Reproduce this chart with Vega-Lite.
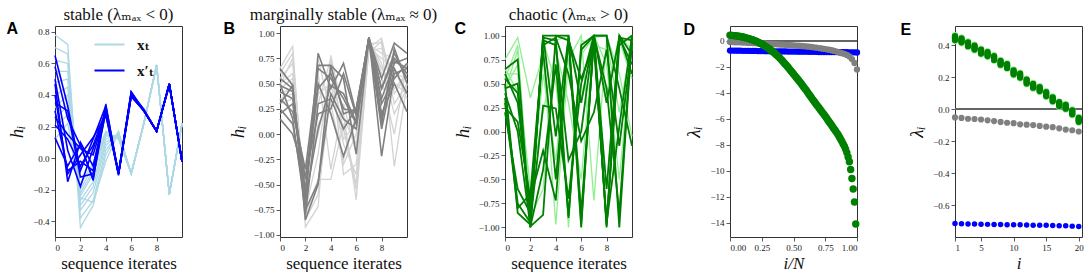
{
"$schema": "https://vega.github.io/schema/vega-lite/v6.json",
"padding": {"left": 5, "top": 5, "right": 0, "bottom": 0},
"bounds": "flush",
"spacing": 98,
"resolve": {"scale": {"color": "independent"}},
"config": {
 "view": {"stroke": "#333333", "strokeWidth": 1},
 "axis": {"grid": false, "domain": false, "labelFont": "Liberation Serif", "labelFontSize": 9, "labelColor": "#222222", "tickColor": "#333333", "tickSize": 4, "tickWidth": 0.8, "labelPadding": 2, "titleFont": "Liberation Serif", "titleFontSize": 17, "titleFontWeight": "normal", "titleColor": "#111111"},
 "axisY": {"titleFontSize": 19, "titleFontStyle": "italic", "titlePadding": 6},
 "axisX": {"titlePadding": 3},
 "title": {"font": "Liberation Serif, DejaVu Serif", "fontSize": 17, "fontWeight": "normal", "color": "#111111", "offset": -4}
},
"hconcat": [
 {
  "width": 127, "height": 211,
  "data": {"name": "A"},
  "title": {"text": "stable (λₘₐₓ < 0)", "anchor": "middle", "frame": "group"},
  "resolve": {"axis": {"x": "independent"}},
  "layer": [
   {"transform": [{"filter": "datum.s == 'x'"}],
    "mark": {"type": "line", "strokeWidth": 1.3},
    "encoding": {
     "x": {"field": "t", "type": "quantitative", "scale": {"domain": [0, 10], "nice": false, "zero": false}, "axis": {"values": [0, 2, 4, 6, 8], "format": "d", "title": "sequence iterates"}},
     "y": {"field": "h", "type": "quantitative", "scale": {"domain": [-0.5, 0.837], "nice": false, "zero": false}, "axis": {"values": [-0.4, -0.2, 0, 0.2, 0.4, 0.6, 0.8], "format": ".1f", "title": "hᵢ"}},
     "color": {"field": "s", "type": "nominal", "scale": {"domain": ["x", "xp"], "range": ["#add8e6", "#0000ff"]},
      "legend": {"orient": "none", "legendX": 47, "legendY": 11, "title": null, "padding": 0, "symbolType": "M-3,0L3,0", "symbolSize": 100, "symbolStrokeWidth": 2, "labelOffset": 20, "labelFont": "Liberation Serif, DejaVu Serif", "labelFontSize": 15, "labelFontWeight": "bold", "labelColor": "#111111", "rowPadding": 10, "labelExpr": "datum.value == 'x' ? 'xₜ' : 'x′ₜ'"}},
     "detail": {"field": "k", "type": "nominal"}
    }},
   {"transform": [{"filter": "datum.s == 'xp'"}],
    "mark": {"type": "line", "strokeWidth": 1.6},
    "encoding": {
     "x": {"field": "t", "type": "quantitative", "scale": {"domain": [0, 10], "nice": false, "zero": false}, "axis": {"orient": "top", "labels": false, "ticks": false, "domain": false, "title": "A", "titleX": -49, "titleY": 7, "titleAngle": 0, "titleAlign": "left", "titleBaseline": "alphabetic", "titleFont": "Liberation Sans", "titleFontSize": 16, "titleFontWeight": "bold", "titleFontStyle": "normal", "titleColor": "#000000"}},
     "y": {"field": "h", "type": "quantitative", "scale": {"domain": [-0.5, 0.837], "nice": false, "zero": false}, "axis": {"values": [-0.4, -0.2, 0, 0.2, 0.4, 0.6, 0.8], "format": ".1f", "title": "hᵢ"}},
     "color": {"field": "s", "type": "nominal", "scale": {"domain": ["x", "xp"], "range": ["#add8e6", "#0000ff"]}},
     "detail": {"field": "k", "type": "nominal"}
    }}
  ]
 },
 {
  "width": 127, "height": 211,
  "data": {"name": "B"},
  "title": {"text": "marginally stable (λₘₐₓ ≈ 0)", "anchor": "middle", "frame": "group"},
  "resolve": {"axis": {"x": "independent"}},
  "layer": [
   {"transform": [{"filter": "datum.s == 'x'"}],
    "mark": {"type": "line", "strokeWidth": 1.3},
    "encoding": {
     "x": {"field": "t", "type": "quantitative", "scale": {"domain": [0, 10], "nice": false, "zero": false}, "axis": {"values": [0, 2, 4, 6, 8], "format": "d", "title": "sequence iterates"}},
     "y": {"field": "h", "type": "quantitative", "scale": {"domain": [-1.02, 1.07], "nice": false, "zero": false}, "axis": {"values": [-1, -0.75, -0.5, -0.25, 0, 0.25, 0.5, 0.75, 1], "format": ".2f", "title": "hᵢ"}},
     "color": {"field": "s", "type": "nominal", "scale": {"domain": ["x", "xp"], "range": ["#d3d3d3", "#808080"]}, "legend": null},
     "detail": {"field": "k", "type": "nominal"}
    }},
   {"transform": [{"filter": "datum.s == 'xp'"}],
    "mark": {"type": "line", "strokeWidth": 1.6},
    "encoding": {
     "x": {"field": "t", "type": "quantitative", "scale": {"domain": [0, 10], "nice": false, "zero": false}, "axis": {"orient": "top", "labels": false, "ticks": false, "domain": false, "title": "B", "titleX": -57, "titleY": 7, "titleAngle": 0, "titleAlign": "left", "titleBaseline": "alphabetic", "titleFont": "Liberation Sans", "titleFontSize": 16, "titleFontWeight": "bold", "titleFontStyle": "normal", "titleColor": "#000000"}},
     "y": {"field": "h", "type": "quantitative", "scale": {"domain": [-1.02, 1.07], "nice": false, "zero": false}, "axis": {"values": [-1, -0.75, -0.5, -0.25, 0, 0.25, 0.5, 0.75, 1], "format": ".2f", "title": "hᵢ"}},
     "color": {"field": "s", "type": "nominal", "scale": {"domain": ["x", "xp"], "range": ["#d3d3d3", "#808080"]}, "legend": null},
     "detail": {"field": "k", "type": "nominal"}
    }}
  ]
 },
 {
  "width": 127, "height": 211,
  "data": {"name": "C"},
  "title": {"text": "chaotic (λₘₐₓ > 0)", "anchor": "middle", "frame": "group"},
  "resolve": {"axis": {"x": "independent"}},
  "layer": [
   {"transform": [{"filter": "datum.s == 'x'"}],
    "mark": {"type": "line", "strokeWidth": 1.3},
    "encoding": {
     "x": {"field": "t", "type": "quantitative", "scale": {"domain": [0, 10], "nice": false, "zero": false}, "axis": {"values": [0, 2, 4, 6, 8], "format": "d", "title": "sequence iterates"}},
     "y": {"field": "h", "type": "quantitative", "scale": {"domain": [-1.1, 1.1], "nice": false, "zero": false}, "axis": {"values": [-1, -0.75, -0.5, -0.25, 0, 0.25, 0.5, 0.75, 1], "format": ".2f", "title": "hᵢ"}},
     "color": {"field": "s", "type": "nominal", "scale": {"domain": ["x", "xp"], "range": ["#90ee90", "#008000"]}, "legend": null},
     "detail": {"field": "k", "type": "nominal"}
    }},
   {"transform": [{"filter": "datum.s == 'xp'"}],
    "mark": {"type": "line", "strokeWidth": 1.8},
    "encoding": {
     "x": {"field": "t", "type": "quantitative", "scale": {"domain": [0, 10], "nice": false, "zero": false}, "axis": {"orient": "top", "labels": false, "ticks": false, "domain": false, "title": "C", "titleX": -51, "titleY": 7, "titleAngle": 0, "titleAlign": "left", "titleBaseline": "alphabetic", "titleFont": "Liberation Sans", "titleFontSize": 16, "titleFontWeight": "bold", "titleFontStyle": "normal", "titleColor": "#000000"}},
     "y": {"field": "h", "type": "quantitative", "scale": {"domain": [-1.1, 1.1], "nice": false, "zero": false}, "axis": {"values": [-1, -0.75, -0.5, -0.25, 0, 0.25, 0.5, 0.75, 1], "format": ".2f", "title": "hᵢ"}},
     "color": {"field": "s", "type": "nominal", "scale": {"domain": ["x", "xp"], "range": ["#90ee90", "#008000"]}, "legend": null},
     "detail": {"field": "k", "type": "nominal"}
    }}
  ]
 },
 {
  "width": 127, "height": 211,
  "data": {"name": "D"},
  "resolve": {"axis": {"x": "independent"}},
  "layer": [
   {"mark": {"type": "rule", "color": "#666666", "strokeWidth": 0.8},
    "encoding": {
     "y": {"datum": 0, "type": "quantitative", "scale": {"domain": [-15.1, 1.15], "nice": false, "zero": false}, "axis": {"values": [-14, -12, -10, -8, -6, -4, -2, 0], "format": "d", "title": "λᵢ"}}
    }},
   {"transform": [{"filter": "datum.s == 'b'"}],
    "mark": {"type": "circle", "opacity": 1, "size": 40},
    "encoding": {
     "x": {"field": "x", "type": "quantitative", "scale": {"domain": [0, 1], "nice": false, "zero": false}, "axis": {"orient": "top", "labels": false, "ticks": false, "domain": false, "title": "D", "titleX": -47, "titleY": 8, "titleAngle": 0, "titleAlign": "left", "titleBaseline": "alphabetic", "titleFont": "Liberation Sans", "titleFontSize": 16, "titleFontWeight": "bold", "titleFontStyle": "normal", "titleColor": "#000000"}},
     "y": {"field": "y", "type": "quantitative", "scale": {"domain": [-15.1, 1.15], "nice": false, "zero": false}, "axis": {"values": [-14, -12, -10, -8, -6, -4, -2, 0], "format": "d", "title": "λᵢ"}},
     "color": {"field": "s", "type": "nominal", "scale": {"domain": ["b", "gr", "g"], "range": ["#0000ff", "#808080", "#008000"]}, "legend": null}
    }},
   {"transform": [{"filter": "datum.s == 'gr'"}],
    "mark": {"type": "circle", "opacity": 1, "size": 40},
    "encoding": {
     "x": {"field": "x", "type": "quantitative", "scale": {"domain": [0, 1], "nice": false, "zero": false}, "axis": {"values": [0, 0.25, 0.5, 0.75, 1], "format": ".2f", "title": "i/N", "titleFontStyle": "italic"}},
     "y": {"field": "y", "type": "quantitative", "scale": {"domain": [-15.1, 1.15], "nice": false, "zero": false}, "axis": {"values": [-14, -12, -10, -8, -6, -4, -2, 0], "format": "d", "title": "λᵢ"}},
     "color": {"field": "s", "type": "nominal", "scale": {"domain": ["b", "gr", "g"], "range": ["#0000ff", "#808080", "#008000"]}, "legend": null}
    }},
   {"transform": [{"filter": "datum.s == 'g'"}],
    "mark": {"type": "circle", "opacity": 1, "size": 55},
    "encoding": {
     "x": {"field": "x", "type": "quantitative", "scale": {"domain": [0, 1], "nice": false, "zero": false}, "axis": null},
     "y": {"field": "y", "type": "quantitative", "scale": {"domain": [-15.1, 1.15], "nice": false, "zero": false}, "axis": {"values": [-14, -12, -10, -8, -6, -4, -2, 0], "format": "d", "title": "λᵢ"}},
     "color": {"field": "s", "type": "nominal", "scale": {"domain": ["b", "gr", "g"], "range": ["#0000ff", "#808080", "#008000"]}, "legend": null}
    }}
  ]
 },
 {
  "width": 127, "height": 211,
  "data": {"name": "E"},
  "resolve": {"axis": {"x": "independent"}},
  "layer": [
   {"mark": {"type": "rule", "color": "#666666", "strokeWidth": 0.8},
    "encoding": {
     "y": {"datum": 0, "type": "quantitative", "scale": {"domain": [-0.8, 0.52], "nice": false, "zero": false}, "axis": {"values": [-0.6, -0.4, -0.2, 0, 0.2, 0.4], "format": ".1f", "title": "λᵢ"}}
    }},
   {"transform": [{"filter": "datum.s == 'b'"}],
    "mark": {"type": "circle", "opacity": 1, "size": 30},
    "encoding": {
     "x": {"field": "i", "type": "quantitative", "scale": {"domain": [1, 20.5], "nice": false, "zero": false}, "axis": {"orient": "top", "labels": false, "ticks": false, "domain": false, "title": "E", "titleX": -55, "titleY": 8, "titleAngle": 0, "titleAlign": "left", "titleBaseline": "alphabetic", "titleFont": "Liberation Sans", "titleFontSize": 16, "titleFontWeight": "bold", "titleFontStyle": "normal", "titleColor": "#000000"}},
     "y": {"field": "y", "type": "quantitative", "scale": {"domain": [-0.8, 0.52], "nice": false, "zero": false}, "axis": {"values": [-0.6, -0.4, -0.2, 0, 0.2, 0.4], "format": ".1f", "title": "λᵢ"}},
     "color": {"field": "s", "type": "nominal", "scale": {"domain": ["b", "gr", "lg", "g"], "range": ["#0000ff", "#808080", "#90ee90", "#008000"]}, "legend": null}
    }},
   {"transform": [{"filter": "datum.s == 'gr'"}],
    "mark": {"type": "circle", "opacity": 1, "size": 38},
    "encoding": {
     "x": {"field": "i", "type": "quantitative", "scale": {"domain": [1, 20.5], "nice": false, "zero": false}, "axis": {"values": [1, 5, 10, 15, 20], "format": "d", "title": "i", "titleFontStyle": "italic"}},
     "y": {"field": "y", "type": "quantitative", "scale": {"domain": [-0.8, 0.52], "nice": false, "zero": false}, "axis": {"values": [-0.6, -0.4, -0.2, 0, 0.2, 0.4], "format": ".1f", "title": "λᵢ"}},
     "color": {"field": "s", "type": "nominal", "scale": {"domain": ["b", "gr", "lg", "g"], "range": ["#0000ff", "#808080", "#90ee90", "#008000"]}, "legend": null}
    }},
   {"transform": [{"filter": "datum.s == 'lg' || datum.s == 'g'"}],
    "mark": {"type": "circle", "opacity": 1, "size": 40},
    "encoding": {
     "x": {"field": "i", "type": "quantitative", "scale": {"domain": [1, 20.5], "nice": false, "zero": false}, "axis": null},
     "y": {"field": "y", "type": "quantitative", "scale": {"domain": [-0.8, 0.52], "nice": false, "zero": false}, "axis": {"values": [-0.6, -0.4, -0.2, 0, 0.2, 0.4], "format": ".1f", "title": "λᵢ"}},
     "color": {"field": "s", "type": "nominal", "scale": {"domain": ["b", "gr", "lg", "g"], "range": ["#0000ff", "#808080", "#90ee90", "#008000"]}, "legend": null},
     "order": {"field": "o", "type": "quantitative"}
    }}
  ]
 }
],
"datasets": {
"A": [
{"s":"x","k":1,"t":0,"h":0.78},{"s":"x","k":1,"t":1,"h":0.72},{"s":"x","k":1,"t":2,"h":-0.44},{"s":"x","k":1,"t":3,"h":-0.30},{"s":"x","k":1,"t":4,"h":0.02},{"s":"x","k":1,"t":5,"h":0.17},{"s":"x","k":1,"t":6,"h":-0.10},{"s":"x","k":1,"t":7,"h":0.22},{"s":"x","k":1,"t":8,"h":0.59},{"s":"x","k":1,"t":9,"h":-0.23},{"s":"x","k":1,"t":10,"h":0.22},
{"s":"x","k":2,"t":0,"h":0.70},{"s":"x","k":2,"t":1,"h":0.66},{"s":"x","k":2,"t":2,"h":-0.38},{"s":"x","k":2,"t":3,"h":-0.27},{"s":"x","k":2,"t":4,"h":0.05},{"s":"x","k":2,"t":5,"h":0.16},{"s":"x","k":2,"t":6,"h":-0.10},{"s":"x","k":2,"t":7,"h":0.22},{"s":"x","k":2,"t":8,"h":0.59},{"s":"x","k":2,"t":9,"h":-0.23},{"s":"x","k":2,"t":10,"h":0.22},
{"s":"x","k":3,"t":0,"h":0.62},{"s":"x","k":3,"t":1,"h":0.60},{"s":"x","k":3,"t":2,"h":-0.33},{"s":"x","k":3,"t":3,"h":-0.22},{"s":"x","k":3,"t":4,"h":0.08},{"s":"x","k":3,"t":5,"h":0.16},{"s":"x","k":3,"t":6,"h":-0.10},{"s":"x","k":3,"t":7,"h":0.22},{"s":"x","k":3,"t":8,"h":0.59},{"s":"x","k":3,"t":9,"h":-0.23},{"s":"x","k":3,"t":10,"h":0.21},
{"s":"x","k":4,"t":0,"h":0.55},{"s":"x","k":4,"t":1,"h":0.55},{"s":"x","k":4,"t":2,"h":-0.30},{"s":"x","k":4,"t":3,"h":-0.18},{"s":"x","k":4,"t":4,"h":0.10},{"s":"x","k":4,"t":5,"h":0.15},{"s":"x","k":4,"t":6,"h":-0.10},{"s":"x","k":4,"t":7,"h":0.22},{"s":"x","k":4,"t":8,"h":0.58},{"s":"x","k":4,"t":9,"h":-0.23},{"s":"x","k":4,"t":10,"h":0.21},
{"s":"x","k":5,"t":0,"h":0.48},{"s":"x","k":5,"t":1,"h":0.50},{"s":"x","k":5,"t":2,"h":-0.27},{"s":"x","k":5,"t":3,"h":-0.15},{"s":"x","k":5,"t":4,"h":0.12},{"s":"x","k":5,"t":5,"h":0.15},{"s":"x","k":5,"t":6,"h":-0.10},{"s":"x","k":5,"t":7,"h":0.22},{"s":"x","k":5,"t":8,"h":0.59},{"s":"x","k":5,"t":9,"h":-0.23},{"s":"x","k":5,"t":10,"h":0.22},
{"s":"x","k":6,"t":0,"h":0.40},{"s":"x","k":6,"t":1,"h":0.45},{"s":"x","k":6,"t":2,"h":-0.24},{"s":"x","k":6,"t":3,"h":-0.10},{"s":"x","k":6,"t":4,"h":0.14},{"s":"x","k":6,"t":5,"h":0.14},{"s":"x","k":6,"t":6,"h":-0.09},{"s":"x","k":6,"t":7,"h":0.22},{"s":"x","k":6,"t":8,"h":0.59},{"s":"x","k":6,"t":9,"h":-0.23},{"s":"x","k":6,"t":10,"h":0.22},
{"s":"x","k":7,"t":0,"h":0.32},{"s":"x","k":7,"t":1,"h":0.40},{"s":"x","k":7,"t":2,"h":-0.22},{"s":"x","k":7,"t":3,"h":-0.08},{"s":"x","k":7,"t":4,"h":0.15},{"s":"x","k":7,"t":5,"h":0.13},{"s":"x","k":7,"t":6,"h":-0.10},{"s":"x","k":7,"t":7,"h":0.22},{"s":"x","k":7,"t":8,"h":0.59},{"s":"x","k":7,"t":9,"h":-0.23},{"s":"x","k":7,"t":10,"h":0.22},
{"s":"x","k":8,"t":0,"h":0.25},{"s":"x","k":8,"t":1,"h":0.33},{"s":"x","k":8,"t":2,"h":-0.20},{"s":"x","k":8,"t":3,"h":-0.05},{"s":"x","k":8,"t":4,"h":0.16},{"s":"x","k":8,"t":5,"h":0.13},{"s":"x","k":8,"t":6,"h":-0.10},{"s":"x","k":8,"t":7,"h":0.23},{"s":"x","k":8,"t":8,"h":0.59},{"s":"x","k":8,"t":9,"h":-0.22},{"s":"x","k":8,"t":10,"h":0.22},
{"s":"x","k":9,"t":0,"h":0.18},{"s":"x","k":9,"t":1,"h":0.28},{"s":"x","k":9,"t":2,"h":-0.17},{"s":"x","k":9,"t":3,"h":-0.03},{"s":"x","k":9,"t":4,"h":0.17},{"s":"x","k":9,"t":5,"h":0.12},{"s":"x","k":9,"t":6,"h":-0.10},{"s":"x","k":9,"t":7,"h":0.22},{"s":"x","k":9,"t":8,"h":0.59},{"s":"x","k":9,"t":9,"h":-0.23},{"s":"x","k":9,"t":10,"h":0.22},
{"s":"x","k":10,"t":0,"h":0.12},{"s":"x","k":10,"t":1,"h":0.22},{"s":"x","k":10,"t":2,"h":-0.25},{"s":"x","k":10,"t":3,"h":-0.28},{"s":"x","k":10,"t":4,"h":-0.02},{"s":"x","k":10,"t":5,"h":0.16},{"s":"x","k":10,"t":6,"h":-0.10},{"s":"x","k":10,"t":7,"h":0.22},{"s":"x","k":10,"t":8,"h":0.59},{"s":"x","k":10,"t":9,"h":-0.23},{"s":"x","k":10,"t":10,"h":0.22},
{"s":"xp","k":11,"t":0,"h":0.65},{"s":"xp","k":11,"t":1,"h":0.33},{"s":"xp","k":11,"t":2,"h":-0.08},{"s":"xp","k":11,"t":3,"h":0.12},{"s":"xp","k":11,"t":4,"h":0.33},{"s":"xp","k":11,"t":5,"h":-0.10},{"s":"xp","k":11,"t":6,"h":0.42},{"s":"xp","k":11,"t":7,"h":0.30},{"s":"xp","k":11,"t":8,"h":0.17},{"s":"xp","k":11,"t":9,"h":0.47},{"s":"xp","k":11,"t":10,"h":-0.02},
{"s":"xp","k":12,"t":0,"h":0.58},{"s":"xp","k":12,"t":1,"h":0.25},{"s":"xp","k":12,"t":2,"h":0.08},{"s":"xp","k":12,"t":3,"h":-0.13},{"s":"xp","k":12,"t":4,"h":0.30},{"s":"xp","k":12,"t":5,"h":-0.10},{"s":"xp","k":12,"t":6,"h":0.40},{"s":"xp","k":12,"t":7,"h":0.30},{"s":"xp","k":12,"t":8,"h":0.17},{"s":"xp","k":12,"t":9,"h":0.47},{"s":"xp","k":12,"t":10,"h":-0.02},
{"s":"xp","k":13,"t":0,"h":0.50},{"s":"xp","k":13,"t":1,"h":0.05},{"s":"xp","k":13,"t":2,"h":-0.18},{"s":"xp","k":13,"t":3,"h":0.06},{"s":"xp","k":13,"t":4,"h":0.28},{"s":"xp","k":13,"t":5,"h":-0.11},{"s":"xp","k":13,"t":6,"h":0.39},{"s":"xp","k":13,"t":7,"h":0.30},{"s":"xp","k":13,"t":8,"h":0.17},{"s":"xp","k":13,"t":9,"h":0.47},{"s":"xp","k":13,"t":10,"h":-0.02},
{"s":"xp","k":14,"t":0,"h":0.47},{"s":"xp","k":14,"t":1,"h":-0.15},{"s":"xp","k":14,"t":2,"h":0.10},{"s":"xp","k":14,"t":3,"h":-0.05},{"s":"xp","k":14,"t":4,"h":0.31},{"s":"xp","k":14,"t":5,"h":-0.10},{"s":"xp","k":14,"t":6,"h":0.41},{"s":"xp","k":14,"t":7,"h":0.31},{"s":"xp","k":14,"t":8,"h":0.17},{"s":"xp","k":14,"t":9,"h":0.47},{"s":"xp","k":14,"t":10,"h":-0.02},
{"s":"xp","k":15,"t":0,"h":0.40},{"s":"xp","k":15,"t":1,"h":-0.10},{"s":"xp","k":15,"t":2,"h":0.02},{"s":"xp","k":15,"t":3,"h":0.13},{"s":"xp","k":15,"t":4,"h":0.27},{"s":"xp","k":15,"t":5,"h":-0.09},{"s":"xp","k":15,"t":6,"h":0.40},{"s":"xp","k":15,"t":7,"h":0.30},{"s":"xp","k":15,"t":8,"h":0.17},{"s":"xp","k":15,"t":9,"h":0.47},{"s":"xp","k":15,"t":10,"h":-0.02},
{"s":"xp","k":16,"t":0,"h":0.35},{"s":"xp","k":16,"t":1,"h":0.30},{"s":"xp","k":16,"t":2,"h":-0.12},{"s":"xp","k":16,"t":3,"h":-0.10},{"s":"xp","k":16,"t":4,"h":0.32},{"s":"xp","k":16,"t":5,"h":-0.10},{"s":"xp","k":16,"t":6,"h":0.39},{"s":"xp","k":16,"t":7,"h":0.30},{"s":"xp","k":16,"t":8,"h":0.17},{"s":"xp","k":16,"t":9,"h":0.47},{"s":"xp","k":16,"t":10,"h":-0.02},
{"s":"xp","k":17,"t":0,"h":0.26},{"s":"xp","k":17,"t":1,"h":0.15},{"s":"xp","k":17,"t":2,"h":0.06},{"s":"xp","k":17,"t":3,"h":0.02},{"s":"xp","k":17,"t":4,"h":0.29},{"s":"xp","k":17,"t":5,"h":-0.10},{"s":"xp","k":17,"t":6,"h":0.41},{"s":"xp","k":17,"t":7,"h":0.30},{"s":"xp","k":17,"t":8,"h":0.17},{"s":"xp","k":17,"t":9,"h":0.46},{"s":"xp","k":17,"t":10,"h":-0.02},
{"s":"xp","k":18,"t":0,"h":0.21},{"s":"xp","k":18,"t":1,"h":0.12},{"s":"xp","k":18,"t":2,"h":-0.05},{"s":"xp","k":18,"t":3,"h":0.08},{"s":"xp","k":18,"t":4,"h":0.30},{"s":"xp","k":18,"t":5,"h":-0.10},{"s":"xp","k":18,"t":6,"h":0.40},{"s":"xp","k":18,"t":7,"h":0.30},{"s":"xp","k":18,"t":8,"h":0.17},{"s":"xp","k":18,"t":9,"h":0.47},{"s":"xp","k":18,"t":10,"h":-0.02},
{"s":"xp","k":19,"t":0,"h":0.13},{"s":"xp","k":19,"t":1,"h":-0.05},{"s":"xp","k":19,"t":2,"h":0.09},{"s":"xp","k":19,"t":3,"h":-0.14},{"s":"xp","k":19,"t":4,"h":0.34},{"s":"xp","k":19,"t":5,"h":-0.10},{"s":"xp","k":19,"t":6,"h":0.42},{"s":"xp","k":19,"t":7,"h":0.30},{"s":"xp","k":19,"t":8,"h":0.17},{"s":"xp","k":19,"t":9,"h":0.47},{"s":"xp","k":19,"t":10,"h":-0.02},
{"s":"xp","k":20,"t":0,"h":0.30},{"s":"xp","k":20,"t":1,"h":-0.08},{"s":"xp","k":20,"t":2,"h":-0.02},{"s":"xp","k":20,"t":3,"h":-0.08},{"s":"xp","k":20,"t":4,"h":0.29},{"s":"xp","k":20,"t":5,"h":-0.10},{"s":"xp","k":20,"t":6,"h":0.40},{"s":"xp","k":20,"t":7,"h":0.30},{"s":"xp","k":20,"t":8,"h":0.17},{"s":"xp","k":20,"t":9,"h":0.47},{"s":"xp","k":20,"t":10,"h":-0.02}
],
"B": [
{"s":"x","k":1,"t":0,"h":0.65},{"s":"x","k":1,"t":1,"h":0.87},{"s":"x","k":1,"t":2,"h":-0.92},{"s":"x","k":1,"t":3,"h":-0.72},{"s":"x","k":1,"t":4,"h":0.78},{"s":"x","k":1,"t":5,"h":0.20},{"s":"x","k":1,"t":6,"h":-0.65},{"s":"x","k":1,"t":7,"h":0.85},{"s":"x","k":1,"t":8,"h":0.95},{"s":"x","k":1,"t":9,"h":0.40},{"s":"x","k":1,"t":10,"h":0.60},
{"s":"x","k":2,"t":0,"h":0.60},{"s":"x","k":2,"t":1,"h":0.80},{"s":"x","k":2,"t":2,"h":-0.80},{"s":"x","k":2,"t":3,"h":-0.45},{"s":"x","k":2,"t":4,"h":-0.45},{"s":"x","k":2,"t":5,"h":0.10},{"s":"x","k":2,"t":6,"h":-0.50},{"s":"x","k":2,"t":7,"h":0.90},{"s":"x","k":2,"t":8,"h":0.90},{"s":"x","k":2,"t":9,"h":-0.32},{"s":"x","k":2,"t":10,"h":0.50},
{"s":"x","k":3,"t":0,"h":0.55},{"s":"x","k":3,"t":1,"h":0.70},{"s":"x","k":3,"t":2,"h":-0.75},{"s":"x","k":3,"t":3,"h":-0.20},{"s":"x","k":3,"t":4,"h":0.70},{"s":"x","k":3,"t":5,"h":-0.40},{"s":"x","k":3,"t":6,"h":-0.30},{"s":"x","k":3,"t":7,"h":0.88},{"s":"x","k":3,"t":8,"h":0.80},{"s":"x","k":3,"t":9,"h":0.75},{"s":"x","k":3,"t":10,"h":0.65},
{"s":"x","k":4,"t":0,"h":0.50},{"s":"x","k":4,"t":1,"h":0.60},{"s":"x","k":4,"t":2,"h":-0.65},{"s":"x","k":4,"t":3,"h":0.10},{"s":"x","k":4,"t":4,"h":0.30},{"s":"x","k":4,"t":5,"h":-0.30},{"s":"x","k":4,"t":6,"h":0.00},{"s":"x","k":4,"t":7,"h":0.92},{"s":"x","k":4,"t":8,"h":0.70},{"s":"x","k":4,"t":9,"h":0.20},{"s":"x","k":4,"t":10,"h":0.45},
{"s":"x","k":5,"t":0,"h":0.45},{"s":"x","k":5,"t":1,"h":0.55},{"s":"x","k":5,"t":2,"h":-0.60},{"s":"x","k":5,"t":3,"h":0.40},{"s":"x","k":5,"t":4,"h":0.50},{"s":"x","k":5,"t":5,"h":-0.10},{"s":"x","k":5,"t":6,"h":-0.40},{"s":"x","k":5,"t":7,"h":0.82},{"s":"x","k":5,"t":8,"h":0.85},{"s":"x","k":5,"t":9,"h":0.60},{"s":"x","k":5,"t":10,"h":0.55},
{"s":"x","k":6,"t":0,"h":0.40},{"s":"x","k":6,"t":1,"h":0.45},{"s":"x","k":6,"t":2,"h":-0.55},{"s":"x","k":6,"t":3,"h":0.60},{"s":"x","k":6,"t":4,"h":-0.35},{"s":"x","k":6,"t":5,"h":0.30},{"s":"x","k":6,"t":6,"h":-0.20},{"s":"x","k":6,"t":7,"h":0.95},{"s":"x","k":6,"t":8,"h":0.60},{"s":"x","k":6,"t":9,"h":0.50},{"s":"x","k":6,"t":10,"h":0.40},
{"s":"x","k":7,"t":0,"h":0.35},{"s":"x","k":7,"t":1,"h":0.40},{"s":"x","k":7,"t":2,"h":-0.50},{"s":"x","k":7,"t":3,"h":0.75},{"s":"x","k":7,"t":4,"h":0.20},{"s":"x","k":7,"t":5,"h":-0.25},{"s":"x","k":7,"t":6,"h":0.20},{"s":"x","k":7,"t":7,"h":0.90},{"s":"x","k":7,"t":8,"h":0.55},{"s":"x","k":7,"t":9,"h":0.00},{"s":"x","k":7,"t":10,"h":0.70},
{"s":"x","k":8,"t":0,"h":0.30},{"s":"x","k":8,"t":1,"h":0.35},{"s":"x","k":8,"t":2,"h":-0.40},{"s":"x","k":8,"t":3,"h":0.00},{"s":"x","k":8,"t":4,"h":0.60},{"s":"x","k":8,"t":5,"h":0.05},{"s":"x","k":8,"t":6,"h":-0.55},{"s":"x","k":8,"t":7,"h":0.85},{"s":"x","k":8,"t":8,"h":0.75},{"s":"x","k":8,"t":9,"h":0.65},{"s":"x","k":8,"t":10,"h":0.35},
{"s":"x","k":9,"t":0,"h":0.62},{"s":"x","k":9,"t":1,"h":0.50},{"s":"x","k":9,"t":2,"h":-0.85},{"s":"x","k":9,"t":3,"h":-0.60},{"s":"x","k":9,"t":4,"h":0.40},{"s":"x","k":9,"t":5,"h":0.15},{"s":"x","k":9,"t":6,"h":-0.10},{"s":"x","k":9,"t":7,"h":0.93},{"s":"x","k":9,"t":8,"h":0.65},{"s":"x","k":9,"t":9,"h":0.45},{"s":"x","k":9,"t":10,"h":0.60},
{"s":"x","k":10,"t":0,"h":0.48},{"s":"x","k":10,"t":1,"h":0.75},{"s":"x","k":10,"t":2,"h":-0.70},{"s":"x","k":10,"t":3,"h":0.30},{"s":"x","k":10,"t":4,"h":0.75},{"s":"x","k":10,"t":5,"h":-0.05},{"s":"x","k":10,"t":6,"h":0.10},{"s":"x","k":10,"t":7,"h":0.80},{"s":"x","k":10,"t":8,"h":0.92},{"s":"x","k":10,"t":9,"h":0.30},{"s":"x","k":10,"t":10,"h":0.50},
{"s":"xp","k":11,"t":0,"h":0.65},{"s":"xp","k":11,"t":1,"h":0.48},{"s":"xp","k":11,"t":2,"h":-0.85},{"s":"xp","k":11,"t":3,"h":-0.50},{"s":"xp","k":11,"t":4,"h":0.68},{"s":"xp","k":11,"t":5,"h":0.20},{"s":"xp","k":11,"t":6,"h":0.25},{"s":"xp","k":11,"t":7,"h":0.95},{"s":"xp","k":11,"t":8,"h":0.55},{"s":"xp","k":11,"t":9,"h":0.90},{"s":"xp","k":11,"t":10,"h":0.80},
{"s":"xp","k":12,"t":0,"h":0.55},{"s":"xp","k":12,"t":1,"h":0.45},{"s":"xp","k":12,"t":2,"h":-0.70},{"s":"xp","k":12,"t":3,"h":0.80},{"s":"xp","k":12,"t":4,"h":0.45},{"s":"xp","k":12,"t":5,"h":0.70},{"s":"xp","k":12,"t":6,"h":0.20},{"s":"xp","k":12,"t":7,"h":0.96},{"s":"xp","k":12,"t":8,"h":0.45},{"s":"xp","k":12,"t":9,"h":0.75},{"s":"xp","k":12,"t":10,"h":0.60},
{"s":"xp","k":13,"t":0,"h":0.48},{"s":"xp","k":13,"t":1,"h":0.42},{"s":"xp","k":13,"t":2,"h":-0.60},{"s":"xp","k":13,"t":3,"h":0.68},{"s":"xp","k":13,"t":4,"h":0.68},{"s":"xp","k":13,"t":5,"h":0.55},{"s":"xp","k":13,"t":6,"h":-0.20},{"s":"xp","k":13,"t":7,"h":0.95},{"s":"xp","k":13,"t":8,"h":0.35},{"s":"xp","k":13,"t":9,"h":0.70},{"s":"xp","k":13,"t":10,"h":0.75},
{"s":"xp","k":14,"t":0,"h":0.42},{"s":"xp","k":14,"t":1,"h":0.35},{"s":"xp","k":14,"t":2,"h":-0.45},{"s":"xp","k":14,"t":3,"h":0.50},{"s":"xp","k":14,"t":4,"h":0.20},{"s":"xp","k":14,"t":5,"h":-0.22},{"s":"xp","k":14,"t":6,"h":0.15},{"s":"xp","k":14,"t":7,"h":0.94},{"s":"xp","k":14,"t":8,"h":0.10},{"s":"xp","k":14,"t":9,"h":0.85},{"s":"xp","k":14,"t":10,"h":0.50},
{"s":"xp","k":15,"t":0,"h":0.35},{"s":"xp","k":15,"t":1,"h":0.22},{"s":"xp","k":15,"t":2,"h":-0.35},{"s":"xp","k":15,"t":3,"h":0.65},{"s":"xp","k":15,"t":4,"h":0.55},{"s":"xp","k":15,"t":5,"h":0.35},{"s":"xp","k":15,"t":6,"h":0.10},{"s":"xp","k":15,"t":7,"h":0.96},{"s":"xp","k":15,"t":8,"h":-0.22},{"s":"xp","k":15,"t":9,"h":0.60},{"s":"xp","k":15,"t":10,"h":0.65},
{"s":"xp","k":16,"t":0,"h":0.30},{"s":"xp","k":16,"t":1,"h":0.48},{"s":"xp","k":16,"t":2,"h":-0.80},{"s":"xp","k":16,"t":3,"h":0.30},{"s":"xp","k":16,"t":4,"h":0.35},{"s":"xp","k":16,"t":5,"h":0.05},{"s":"xp","k":16,"t":6,"h":0.25},{"s":"xp","k":16,"t":7,"h":0.95},{"s":"xp","k":16,"t":8,"h":0.05},{"s":"xp","k":16,"t":9,"h":0.65},{"s":"xp","k":16,"t":10,"h":0.40},
{"s":"xp","k":17,"t":0,"h":0.25},{"s":"xp","k":17,"t":1,"h":0.10},{"s":"xp","k":17,"t":2,"h":-0.65},{"s":"xp","k":17,"t":3,"h":0.05},{"s":"xp","k":17,"t":4,"h":0.48},{"s":"xp","k":17,"t":5,"h":0.40},{"s":"xp","k":17,"t":6,"h":0.12},{"s":"xp","k":17,"t":7,"h":0.95},{"s":"xp","k":17,"t":8,"h":0.30},{"s":"xp","k":17,"t":9,"h":0.55},{"s":"xp","k":17,"t":10,"h":0.70},
{"s":"xp","k":18,"t":0,"h":0.20},{"s":"xp","k":18,"t":1,"h":0.30},{"s":"xp","k":18,"t":2,"h":-0.55},{"s":"xp","k":18,"t":3,"h":0.45},{"s":"xp","k":18,"t":4,"h":0.60},{"s":"xp","k":18,"t":5,"h":0.25},{"s":"xp","k":18,"t":6,"h":0.22},{"s":"xp","k":18,"t":7,"h":0.96},{"s":"xp","k":18,"t":8,"h":0.20},{"s":"xp","k":18,"t":9,"h":0.50},{"s":"xp","k":18,"t":10,"h":0.22},
{"s":"xp","k":19,"t":0,"h":0.15},{"s":"xp","k":19,"t":1,"h":0.00},{"s":"xp","k":19,"t":2,"h":-0.42},{"s":"xp","k":19,"t":3,"h":0.20},{"s":"xp","k":19,"t":4,"h":0.25},{"s":"xp","k":19,"t":5,"h":0.60},{"s":"xp","k":19,"t":6,"h":0.18},{"s":"xp","k":19,"t":7,"h":0.95},{"s":"xp","k":19,"t":8,"h":0.45},{"s":"xp","k":19,"t":9,"h":0.80},{"s":"xp","k":19,"t":10,"h":0.55},
{"s":"xp","k":20,"t":0,"h":0.50},{"s":"xp","k":20,"t":1,"h":0.15},{"s":"xp","k":20,"t":2,"h":-0.75},{"s":"xp","k":20,"t":3,"h":-0.48},{"s":"xp","k":20,"t":4,"h":0.40},{"s":"xp","k":20,"t":5,"h":0.15},{"s":"xp","k":20,"t":6,"h":0.05},{"s":"xp","k":20,"t":7,"h":0.94},{"s":"xp","k":20,"t":8,"h":0.15},{"s":"xp","k":20,"t":9,"h":0.72},{"s":"xp","k":20,"t":10,"h":0.65}
],
"C": [
{"s":"x","k":1,"t":0,"h":0.75},{"s":"x","k":1,"t":1,"h":0.98},{"s":"x","k":1,"t":2,"h":0.35},{"s":"x","k":1,"t":3,"h":0.80},{"s":"x","k":1,"t":4,"h":-0.97},{"s":"x","k":1,"t":5,"h":0.75},{"s":"x","k":1,"t":6,"h":1.00},{"s":"x","k":1,"t":7,"h":-0.72},{"s":"x","k":1,"t":8,"h":0.95},{"s":"x","k":1,"t":9,"h":0.20},{"s":"x","k":1,"t":10,"h":0.95},
{"s":"x","k":2,"t":0,"h":0.65},{"s":"x","k":2,"t":1,"h":0.42},{"s":"x","k":2,"t":2,"h":-0.95},{"s":"x","k":2,"t":3,"h":1.00},{"s":"x","k":2,"t":4,"h":1.00},{"s":"x","k":2,"t":5,"h":-1.00},{"s":"x","k":2,"t":6,"h":0.95},{"s":"x","k":2,"t":7,"h":0.90},{"s":"x","k":2,"t":8,"h":0.85},{"s":"x","k":2,"t":9,"h":-0.90},{"s":"x","k":2,"t":10,"h":1.00},
{"s":"x","k":3,"t":0,"h":0.55},{"s":"x","k":3,"t":1,"h":0.90},{"s":"x","k":3,"t":2,"h":-0.90},{"s":"x","k":3,"t":3,"h":-0.60},{"s":"x","k":3,"t":4,"h":0.95},{"s":"x","k":3,"t":5,"h":1.00},{"s":"x","k":3,"t":6,"h":-0.95},{"s":"x","k":3,"t":7,"h":1.00},{"s":"x","k":3,"t":8,"h":-0.60},{"s":"x","k":3,"t":9,"h":0.95},{"s":"x","k":3,"t":10,"h":0.55},
{"s":"x","k":4,"t":0,"h":0.45},{"s":"x","k":4,"t":1,"h":0.70},{"s":"x","k":4,"t":2,"h":-0.75},{"s":"x","k":4,"t":3,"h":0.60},{"s":"x","k":4,"t":4,"h":-0.30},{"s":"x","k":4,"t":5,"h":0.98},{"s":"x","k":4,"t":6,"h":0.35},{"s":"x","k":4,"t":7,"h":0.98},{"s":"x","k":4,"t":8,"h":1.00},{"s":"x","k":4,"t":9,"h":0.60},{"s":"x","k":4,"t":10,"h":-0.05},
{"s":"x","k":5,"t":0,"h":0.42},{"s":"x","k":5,"t":1,"h":0.85},{"s":"x","k":5,"t":2,"h":-0.98},{"s":"x","k":5,"t":3,"h":0.95},{"s":"x","k":5,"t":4,"h":0.50},{"s":"x","k":5,"t":5,"h":-0.70},{"s":"x","k":5,"t":6,"h":0.80},{"s":"x","k":5,"t":7,"h":0.99},{"s":"x","k":5,"t":8,"h":0.40},{"s":"x","k":5,"t":9,"h":1.00},{"s":"x","k":5,"t":10,"h":0.85},
{"s":"x","k":6,"t":0,"h":0.60},{"s":"x","k":6,"t":1,"h":0.60},{"s":"x","k":6,"t":2,"h":-0.60},{"s":"x","k":6,"t":3,"h":0.20},{"s":"x","k":6,"t":4,"h":0.85},{"s":"x","k":6,"t":5,"h":0.30},{"s":"x","k":6,"t":6,"h":-0.50},{"s":"x","k":6,"t":7,"h":1.00},{"s":"x","k":6,"t":8,"h":0.70},{"s":"x","k":6,"t":9,"h":-0.50},{"s":"x","k":6,"t":10,"h":0.90},
{"s":"xp","k":11,"t":0,"h":0.65},{"s":"xp","k":11,"t":1,"h":0.75},{"s":"xp","k":11,"t":2,"h":-1.00},{"s":"xp","k":11,"t":3,"h":1.00},{"s":"xp","k":11,"t":4,"h":1.00},{"s":"xp","k":11,"t":5,"h":0.95},{"s":"xp","k":11,"t":6,"h":-1.00},{"s":"xp","k":11,"t":7,"h":1.00},{"s":"xp","k":11,"t":8,"h":-1.00},{"s":"xp","k":11,"t":9,"h":1.00},{"s":"xp","k":11,"t":10,"h":0.80},
{"s":"xp","k":12,"t":0,"h":0.50},{"s":"xp","k":12,"t":1,"h":-0.85},{"s":"xp","k":12,"t":2,"h":-0.97},{"s":"xp","k":12,"t":3,"h":0.98},{"s":"xp","k":12,"t":4,"h":0.95},{"s":"xp","k":12,"t":5,"h":-0.90},{"s":"xp","k":12,"t":6,"h":0.85},{"s":"xp","k":12,"t":7,"h":1.00},{"s":"xp","k":12,"t":8,"h":1.00},{"s":"xp","k":12,"t":9,"h":-1.00},{"s":"xp","k":12,"t":10,"h":1.00},
{"s":"xp","k":13,"t":0,"h":0.45},{"s":"xp","k":13,"t":1,"h":0.50},{"s":"xp","k":13,"t":2,"h":-0.99},{"s":"xp","k":13,"t":3,"h":-0.87},{"s":"xp","k":13,"t":4,"h":1.00},{"s":"xp","k":13,"t":5,"h":1.00},{"s":"xp","k":13,"t":6,"h":-0.85},{"s":"xp","k":13,"t":7,"h":0.95},{"s":"xp","k":13,"t":8,"h":-0.95},{"s":"xp","k":13,"t":9,"h":0.98},{"s":"xp","k":13,"t":10,"h":0.95},
{"s":"xp","k":14,"t":0,"h":0.35},{"s":"xp","k":14,"t":1,"h":-0.75},{"s":"xp","k":14,"t":2,"h":-0.95},{"s":"xp","k":14,"t":3,"h":0.27},{"s":"xp","k":14,"t":4,"h":0.24},{"s":"xp","k":14,"t":5,"h":-0.70},{"s":"xp","k":14,"t":6,"h":0.50},{"s":"xp","k":14,"t":7,"h":1.00},{"s":"xp","k":14,"t":8,"h":0.45},{"s":"xp","k":14,"t":9,"h":-0.85},{"s":"xp","k":14,"t":10,"h":1.00},
{"s":"xp","k":15,"t":0,"h":0.25},{"s":"xp","k":15,"t":1,"h":0.10},{"s":"xp","k":15,"t":2,"h":-0.70},{"s":"xp","k":15,"t":3,"h":-0.20},{"s":"xp","k":15,"t":4,"h":-0.72},{"s":"xp","k":15,"t":5,"h":1.00},{"s":"xp","k":15,"t":6,"h":-0.95},{"s":"xp","k":15,"t":7,"h":0.98},{"s":"xp","k":15,"t":8,"h":-0.60},{"s":"xp","k":15,"t":9,"h":1.00},{"s":"xp","k":15,"t":10,"h":0.60},
{"s":"xp","k":16,"t":0,"h":0.20},{"s":"xp","k":16,"t":1,"h":-0.60},{"s":"xp","k":16,"t":2,"h":-0.85},{"s":"xp","k":16,"t":3,"h":0.95},{"s":"xp","k":16,"t":4,"h":0.90},{"s":"xp","k":16,"t":5,"h":-0.30},{"s":"xp","k":16,"t":6,"h":0.00},{"s":"xp","k":16,"t":7,"h":1.00},{"s":"xp","k":16,"t":8,"h":1.00},{"s":"xp","k":16,"t":9,"h":0.45},{"s":"xp","k":16,"t":10,"h":-0.15},
{"s":"xp","k":17,"t":0,"h":0.55},{"s":"xp","k":17,"t":1,"h":0.40},{"s":"xp","k":17,"t":2,"h":-0.92},{"s":"xp","k":17,"t":3,"h":1.00},{"s":"xp","k":17,"t":4,"h":-0.05},{"s":"xp","k":17,"t":5,"h":0.98},{"s":"xp","k":17,"t":6,"h":0.30},{"s":"xp","k":17,"t":7,"h":1.00},{"s":"xp","k":17,"t":8,"h":-0.98},{"s":"xp","k":17,"t":9,"h":0.90},{"s":"xp","k":17,"t":10,"h":1.00},
{"s":"xp","k":18,"t":0,"h":0.30},{"s":"xp","k":18,"t":1,"h":-0.80},{"s":"xp","k":18,"t":2,"h":-0.65},{"s":"xp","k":18,"t":3,"h":0.90},{"s":"xp","k":18,"t":4,"h":0.98},{"s":"xp","k":18,"t":5,"h":0.60},{"s":"xp","k":18,"t":6,"h":-0.10},{"s":"xp","k":18,"t":7,"h":0.20},{"s":"xp","k":18,"t":8,"h":0.85},{"s":"xp","k":18,"t":9,"h":-0.15},{"s":"xp","k":18,"t":10,"h":0.90},
{"s":"xp","k":19,"t":0,"h":0.40},{"s":"xp","k":19,"t":1,"h":0.00},{"s":"xp","k":19,"t":2,"h":-0.99},{"s":"xp","k":19,"t":3,"h":-0.40},{"s":"xp","k":19,"t":4,"h":0.70},{"s":"xp","k":19,"t":5,"h":-0.88},{"s":"xp","k":19,"t":6,"h":0.90},{"s":"xp","k":19,"t":7,"h":1.00},{"s":"xp","k":19,"t":8,"h":0.30},{"s":"xp","k":19,"t":9,"h":0.98},{"s":"xp","k":19,"t":10,"h":0.70},
{"s":"xp","k":20,"t":0,"h":0.60},{"s":"xp","k":20,"t":1,"h":0.30},{"s":"xp","k":20,"t":2,"h":-0.80},{"s":"xp","k":20,"t":3,"h":0.85},{"s":"xp","k":20,"t":4,"h":-0.50},{"s":"xp","k":20,"t":5,"h":0.95},{"s":"xp","k":20,"t":6,"h":0.55},{"s":"xp","k":20,"t":7,"h":0.90},{"s":"xp","k":20,"t":8,"h":-0.95},{"s":"xp","k":20,"t":9,"h":0.05},{"s":"xp","k":20,"t":10,"h":1.00}
],
"D": [
{"s":"b","x":0.00,"y":-0.74},{"s":"b","x":0.02,"y":-0.74},{"s":"b","x":0.04,"y":-0.75},{"s":"b","x":0.06,"y":-0.75},{"s":"b","x":0.08,"y":-0.75},{"s":"b","x":0.10,"y":-0.76},{"s":"b","x":0.12,"y":-0.76},{"s":"b","x":0.14,"y":-0.76},{"s":"b","x":0.16,"y":-0.77},{"s":"b","x":0.18,"y":-0.77},{"s":"b","x":0.20,"y":-0.77},{"s":"b","x":0.22,"y":-0.78},{"s":"b","x":0.24,"y":-0.78},{"s":"b","x":0.26,"y":-0.78},{"s":"b","x":0.28,"y":-0.79},{"s":"b","x":0.30,"y":-0.79},{"s":"b","x":0.32,"y":-0.79},{"s":"b","x":0.34,"y":-0.80},{"s":"b","x":0.36,"y":-0.80},{"s":"b","x":0.38,"y":-0.80},{"s":"b","x":0.40,"y":-0.81},{"s":"b","x":0.42,"y":-0.81},{"s":"b","x":0.44,"y":-0.81},{"s":"b","x":0.46,"y":-0.82},{"s":"b","x":0.48,"y":-0.82},{"s":"b","x":0.50,"y":-0.82},{"s":"b","x":0.52,"y":-0.82},{"s":"b","x":0.54,"y":-0.83},{"s":"b","x":0.56,"y":-0.83},{"s":"b","x":0.58,"y":-0.83},{"s":"b","x":0.60,"y":-0.83},{"s":"b","x":0.62,"y":-0.84},{"s":"b","x":0.64,"y":-0.84},{"s":"b","x":0.66,"y":-0.84},{"s":"b","x":0.68,"y":-0.84},{"s":"b","x":0.70,"y":-0.85},{"s":"b","x":0.72,"y":-0.85},{"s":"b","x":0.74,"y":-0.85},{"s":"b","x":0.76,"y":-0.85},{"s":"b","x":0.78,"y":-0.86},{"s":"b","x":0.80,"y":-0.86},{"s":"b","x":0.82,"y":-0.86},{"s":"b","x":0.84,"y":-0.86},{"s":"b","x":0.86,"y":-0.87},{"s":"b","x":0.88,"y":-0.87},{"s":"b","x":0.90,"y":-0.87},{"s":"b","x":0.92,"y":-0.87},{"s":"b","x":0.94,"y":-0.88},{"s":"b","x":0.96,"y":-0.88},{"s":"b","x":0.98,"y":-0.88},{"s":"b","x":1.00,"y":-0.89},
{"s":"gr","x":0.00,"y":-0.08},{"s":"gr","x":0.02,"y":-0.09},{"s":"gr","x":0.04,"y":-0.10},{"s":"gr","x":0.06,"y":-0.10},{"s":"gr","x":0.08,"y":-0.11},{"s":"gr","x":0.10,"y":-0.12},{"s":"gr","x":0.12,"y":-0.13},{"s":"gr","x":0.14,"y":-0.14},{"s":"gr","x":0.16,"y":-0.15},{"s":"gr","x":0.18,"y":-0.16},{"s":"gr","x":0.20,"y":-0.17},{"s":"gr","x":0.22,"y":-0.18},{"s":"gr","x":0.24,"y":-0.19},{"s":"gr","x":0.26,"y":-0.20},{"s":"gr","x":0.28,"y":-0.21},{"s":"gr","x":0.30,"y":-0.22},{"s":"gr","x":0.32,"y":-0.23},{"s":"gr","x":0.34,"y":-0.24},{"s":"gr","x":0.36,"y":-0.25},{"s":"gr","x":0.38,"y":-0.27},{"s":"gr","x":0.40,"y":-0.28},{"s":"gr","x":0.42,"y":-0.29},{"s":"gr","x":0.44,"y":-0.30},{"s":"gr","x":0.46,"y":-0.32},{"s":"gr","x":0.48,"y":-0.33},{"s":"gr","x":0.50,"y":-0.34},{"s":"gr","x":0.52,"y":-0.36},{"s":"gr","x":0.54,"y":-0.37},{"s":"gr","x":0.56,"y":-0.39},{"s":"gr","x":0.58,"y":-0.40},{"s":"gr","x":0.60,"y":-0.42},{"s":"gr","x":0.62,"y":-0.44},{"s":"gr","x":0.64,"y":-0.47},{"s":"gr","x":0.66,"y":-0.49},{"s":"gr","x":0.68,"y":-0.52},{"s":"gr","x":0.70,"y":-0.55},{"s":"gr","x":0.72,"y":-0.58},{"s":"gr","x":0.74,"y":-0.61},{"s":"gr","x":0.76,"y":-0.65},{"s":"gr","x":0.78,"y":-0.68},{"s":"gr","x":0.80,"y":-0.72},{"s":"gr","x":0.82,"y":-0.77},{"s":"gr","x":0.84,"y":-0.82},{"s":"gr","x":0.86,"y":-0.88},{"s":"gr","x":0.88,"y":-0.94},{"s":"gr","x":0.90,"y":-1.00},{"s":"gr","x":0.92,"y":-1.08},{"s":"gr","x":0.94,"y":-1.20},{"s":"gr","x":0.96,"y":-1.40},{"s":"gr","x":0.98,"y":-1.70},{"s":"gr","x":1.00,"y":-2.20},
{"s":"g","x":0.00,"y":0.44},{"s":"g","x":0.01,"y":0.43},{"s":"g","x":0.02,"y":0.42},{"s":"g","x":0.03,"y":0.41},{"s":"g","x":0.04,"y":0.40},{"s":"g","x":0.05,"y":0.39},{"s":"g","x":0.06,"y":0.37},{"s":"g","x":0.07,"y":0.36},{"s":"g","x":0.08,"y":0.34},{"s":"g","x":0.09,"y":0.32},{"s":"g","x":0.10,"y":0.30},{"s":"g","x":0.11,"y":0.28},{"s":"g","x":0.12,"y":0.25},{"s":"g","x":0.13,"y":0.23},{"s":"g","x":0.14,"y":0.20},{"s":"g","x":0.15,"y":0.17},{"s":"g","x":0.16,"y":0.14},{"s":"g","x":0.17,"y":0.11},{"s":"g","x":0.18,"y":0.07},{"s":"g","x":0.19,"y":0.04},{"s":"g","x":0.20,"y":0.00},{"s":"g","x":0.21,"y":-0.04},{"s":"g","x":0.22,"y":-0.09},{"s":"g","x":0.23,"y":-0.14},{"s":"g","x":0.24,"y":-0.19},{"s":"g","x":0.25,"y":-0.24},{"s":"g","x":0.26,"y":-0.30},{"s":"g","x":0.27,"y":-0.36},{"s":"g","x":0.28,"y":-0.42},{"s":"g","x":0.29,"y":-0.48},{"s":"g","x":0.30,"y":-0.55},{"s":"g","x":0.31,"y":-0.62},{"s":"g","x":0.32,"y":-0.69},{"s":"g","x":0.33,"y":-0.77},{"s":"g","x":0.34,"y":-0.85},{"s":"g","x":0.35,"y":-0.93},{"s":"g","x":0.36,"y":-1.02},{"s":"g","x":0.37,"y":-1.11},{"s":"g","x":0.38,"y":-1.20},{"s":"g","x":0.39,"y":-1.30},{"s":"g","x":0.40,"y":-1.40},{"s":"g","x":0.41,"y":-1.51},{"s":"g","x":0.42,"y":-1.62},{"s":"g","x":0.43,"y":-1.73},{"s":"g","x":0.44,"y":-1.84},{"s":"g","x":0.45,"y":-1.95},{"s":"g","x":0.46,"y":-2.07},{"s":"g","x":0.47,"y":-2.19},{"s":"g","x":0.48,"y":-2.31},{"s":"g","x":0.49,"y":-2.43},{"s":"g","x":0.50,"y":-2.55},{"s":"g","x":0.51,"y":-2.67},{"s":"g","x":0.52,"y":-2.79},{"s":"g","x":0.53,"y":-2.91},{"s":"g","x":0.54,"y":-3.03},{"s":"g","x":0.55,"y":-3.15},{"s":"g","x":0.56,"y":-3.28},{"s":"g","x":0.57,"y":-3.41},{"s":"g","x":0.58,"y":-3.54},{"s":"g","x":0.59,"y":-3.67},{"s":"g","x":0.60,"y":-3.80},{"s":"g","x":0.61,"y":-3.94},{"s":"g","x":0.62,"y":-4.08},{"s":"g","x":0.63,"y":-4.22},{"s":"g","x":0.64,"y":-4.36},{"s":"g","x":0.65,"y":-4.50},{"s":"g","x":0.66,"y":-4.63},{"s":"g","x":0.67,"y":-4.76},{"s":"g","x":0.68,"y":-4.89},{"s":"g","x":0.69,"y":-5.02},{"s":"g","x":0.70,"y":-5.15},{"s":"g","x":0.71,"y":-5.28},{"s":"g","x":0.72,"y":-5.41},{"s":"g","x":0.73,"y":-5.54},{"s":"g","x":0.74,"y":-5.67},{"s":"g","x":0.75,"y":-5.80},{"s":"g","x":0.76,"y":-5.94},{"s":"g","x":0.77,"y":-6.08},{"s":"g","x":0.78,"y":-6.22},{"s":"g","x":0.79,"y":-6.36},{"s":"g","x":0.80,"y":-6.50},{"s":"g","x":0.81,"y":-6.64},{"s":"g","x":0.82,"y":-6.78},{"s":"g","x":0.83,"y":-6.92},{"s":"g","x":0.84,"y":-7.06},{"s":"g","x":0.85,"y":-7.20},{"s":"g","x":0.86,"y":-7.37},{"s":"g","x":0.87,"y":-7.55},{"s":"g","x":0.88,"y":-7.73},{"s":"g","x":0.89,"y":-7.91},{"s":"g","x":0.90,"y":-8.10},{"s":"g","x":0.91,"y":-8.33},{"s":"g","x":0.92,"y":-8.60},{"s":"g","x":0.93,"y":-8.93},{"s":"g","x":0.94,"y":-9.30},{"s":"g","x":0.95,"y":-9.90},{"s":"g","x":0.96,"y":-10.60},{"s":"g","x":0.97,"y":-11.40},{"s":"g","x":0.98,"y":-12.40},{"s":"g","x":0.99,"y":-14.10}
],
"E": [
{"s":"b","i":1,"y":-0.716},{"s":"b","i":2,"y":-0.717},{"s":"b","i":3,"y":-0.718},{"s":"b","i":4,"y":-0.718},{"s":"b","i":5,"y":-0.720},{"s":"b","i":6,"y":-0.721},{"s":"b","i":7,"y":-0.722},{"s":"b","i":8,"y":-0.722},{"s":"b","i":9,"y":-0.723},{"s":"b","i":10,"y":-0.724},{"s":"b","i":11,"y":-0.724},{"s":"b","i":12,"y":-0.725},{"s":"b","i":13,"y":-0.726},{"s":"b","i":14,"y":-0.727},{"s":"b","i":15,"y":-0.727},{"s":"b","i":16,"y":-0.728},{"s":"b","i":17,"y":-0.729},{"s":"b","i":18,"y":-0.730},{"s":"b","i":19,"y":-0.732},{"s":"b","i":20,"y":-0.734},
{"s":"gr","i":1,"y":-0.052},{"s":"gr","i":2,"y":-0.055},{"s":"gr","i":3,"y":-0.060},{"s":"gr","i":4,"y":-0.062},{"s":"gr","i":5,"y":-0.065},{"s":"gr","i":6,"y":-0.070},{"s":"gr","i":7,"y":-0.075},{"s":"gr","i":8,"y":-0.080},{"s":"gr","i":9,"y":-0.085},{"s":"gr","i":10,"y":-0.088},{"s":"gr","i":11,"y":-0.095},{"s":"gr","i":12,"y":-0.097},{"s":"gr","i":13,"y":-0.100},{"s":"gr","i":14,"y":-0.105},{"s":"gr","i":15,"y":-0.110},{"s":"gr","i":16,"y":-0.113},{"s":"gr","i":17,"y":-0.120},{"s":"gr","i":18,"y":-0.128},{"s":"gr","i":19,"y":-0.132},{"s":"gr","i":20,"y":-0.140},
{"s":"lg","o":1,"i":1,"y":0.426},{"s":"lg","o":1,"i":1,"y":0.462},{"s":"lg","o":1,"i":2,"y":0.412},{"s":"lg","o":1,"i":2,"y":0.448},{"s":"lg","o":1,"i":3,"y":0.388},{"s":"lg","o":1,"i":3,"y":0.424},{"s":"lg","o":1,"i":4,"y":0.367},{"s":"lg","o":1,"i":4,"y":0.403},{"s":"lg","o":1,"i":5,"y":0.342},{"s":"lg","o":1,"i":5,"y":0.378},{"s":"lg","o":1,"i":6,"y":0.326},{"s":"lg","o":1,"i":6,"y":0.362},{"s":"lg","o":1,"i":7,"y":0.302},{"s":"lg","o":1,"i":7,"y":0.338},{"s":"lg","o":1,"i":8,"y":0.272},{"s":"lg","o":1,"i":8,"y":0.308},{"s":"lg","o":1,"i":9,"y":0.252},{"s":"lg","o":1,"i":9,"y":0.288},{"s":"lg","o":1,"i":10,"y":0.212},{"s":"lg","o":1,"i":10,"y":0.248},{"s":"lg","o":1,"i":11,"y":0.192},{"s":"lg","o":1,"i":11,"y":0.228},{"s":"lg","o":1,"i":12,"y":0.155},{"s":"lg","o":1,"i":12,"y":0.191},{"s":"lg","o":1,"i":13,"y":0.128},{"s":"lg","o":1,"i":13,"y":0.164},{"s":"lg","o":1,"i":14,"y":0.107},{"s":"lg","o":1,"i":14,"y":0.143},{"s":"lg","o":1,"i":15,"y":0.076},{"s":"lg","o":1,"i":15,"y":0.112},{"s":"lg","o":1,"i":16,"y":0.044},{"s":"lg","o":1,"i":16,"y":0.080},{"s":"lg","o":1,"i":17,"y":0.013},{"s":"lg","o":1,"i":17,"y":0.049},{"s":"lg","o":1,"i":18,"y":-0.003},{"s":"lg","o":1,"i":18,"y":0.033},{"s":"lg","o":1,"i":19,"y":-0.038},{"s":"lg","o":1,"i":19,"y":-0.002},{"s":"lg","o":1,"i":20,"y":-0.085},{"s":"lg","o":1,"i":20,"y":-0.049},
{"s":"g","o":2,"i":1,"y":0.432},{"s":"g","o":2,"i":1,"y":0.440},{"s":"g","o":2,"i":1,"y":0.448},{"s":"g","o":2,"i":1,"y":0.456},
{"s":"g","o":2,"i":2,"y":0.418},{"s":"g","o":2,"i":2,"y":0.426},{"s":"g","o":2,"i":2,"y":0.434},{"s":"g","o":2,"i":2,"y":0.442},
{"s":"g","o":2,"i":3,"y":0.394},{"s":"g","o":2,"i":3,"y":0.402},{"s":"g","o":2,"i":3,"y":0.410},{"s":"g","o":2,"i":3,"y":0.418},
{"s":"g","o":2,"i":4,"y":0.373},{"s":"g","o":2,"i":4,"y":0.381},{"s":"g","o":2,"i":4,"y":0.389},{"s":"g","o":2,"i":4,"y":0.397},
{"s":"g","o":2,"i":5,"y":0.348},{"s":"g","o":2,"i":5,"y":0.356},{"s":"g","o":2,"i":5,"y":0.364},{"s":"g","o":2,"i":5,"y":0.372},
{"s":"g","o":2,"i":6,"y":0.332},{"s":"g","o":2,"i":6,"y":0.340},{"s":"g","o":2,"i":6,"y":0.348},{"s":"g","o":2,"i":6,"y":0.356},
{"s":"g","o":2,"i":7,"y":0.308},{"s":"g","o":2,"i":7,"y":0.316},{"s":"g","o":2,"i":7,"y":0.324},{"s":"g","o":2,"i":7,"y":0.332},
{"s":"g","o":2,"i":8,"y":0.278},{"s":"g","o":2,"i":8,"y":0.286},{"s":"g","o":2,"i":8,"y":0.294},{"s":"g","o":2,"i":8,"y":0.302},
{"s":"g","o":2,"i":9,"y":0.258},{"s":"g","o":2,"i":9,"y":0.266},{"s":"g","o":2,"i":9,"y":0.274},{"s":"g","o":2,"i":9,"y":0.282},
{"s":"g","o":2,"i":10,"y":0.218},{"s":"g","o":2,"i":10,"y":0.226},{"s":"g","o":2,"i":10,"y":0.234},{"s":"g","o":2,"i":10,"y":0.242},
{"s":"g","o":2,"i":11,"y":0.198},{"s":"g","o":2,"i":11,"y":0.206},{"s":"g","o":2,"i":11,"y":0.214},{"s":"g","o":2,"i":11,"y":0.222},
{"s":"g","o":2,"i":12,"y":0.161},{"s":"g","o":2,"i":12,"y":0.169},{"s":"g","o":2,"i":12,"y":0.177},{"s":"g","o":2,"i":12,"y":0.185},
{"s":"g","o":2,"i":13,"y":0.134},{"s":"g","o":2,"i":13,"y":0.142},{"s":"g","o":2,"i":13,"y":0.150},{"s":"g","o":2,"i":13,"y":0.158},
{"s":"g","o":2,"i":14,"y":0.113},{"s":"g","o":2,"i":14,"y":0.121},{"s":"g","o":2,"i":14,"y":0.129},{"s":"g","o":2,"i":14,"y":0.137},
{"s":"g","o":2,"i":15,"y":0.082},{"s":"g","o":2,"i":15,"y":0.090},{"s":"g","o":2,"i":15,"y":0.098},{"s":"g","o":2,"i":15,"y":0.106},
{"s":"g","o":2,"i":16,"y":0.050},{"s":"g","o":2,"i":16,"y":0.058},{"s":"g","o":2,"i":16,"y":0.066},{"s":"g","o":2,"i":16,"y":0.074},
{"s":"g","o":2,"i":17,"y":0.019},{"s":"g","o":2,"i":17,"y":0.027},{"s":"g","o":2,"i":17,"y":0.035},{"s":"g","o":2,"i":17,"y":0.043},
{"s":"g","o":2,"i":18,"y":0.003},{"s":"g","o":2,"i":18,"y":0.011},{"s":"g","o":2,"i":18,"y":0.019},{"s":"g","o":2,"i":18,"y":0.027},
{"s":"g","o":2,"i":19,"y":-0.032},{"s":"g","o":2,"i":19,"y":-0.024},{"s":"g","o":2,"i":19,"y":-0.016},{"s":"g","o":2,"i":19,"y":-0.008},
{"s":"g","o":2,"i":20,"y":-0.079},{"s":"g","o":2,"i":20,"y":-0.071},{"s":"g","o":2,"i":20,"y":-0.063},{"s":"g","o":2,"i":20,"y":-0.055}
]
}
}
